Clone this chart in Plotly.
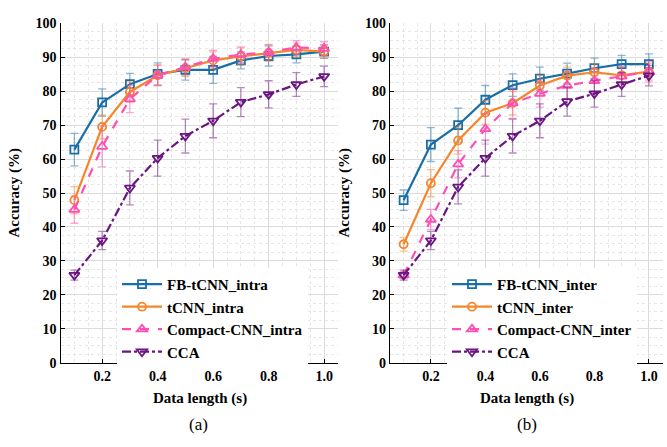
import plotly.graph_objects as go

# Data length (s)
data_length = [0.1, 0.2, 0.3, 0.4, 0.5, 0.6, 0.7, 0.8, 0.9, 1.0]

# (a) intra-subject accuracy (%) and standard errors
fb_intra = [62.8, 76.7, 82.1, 85.1, 86.3, 86.3, 89.1, 90.4, 90.9, 91.7]
fb_intra_err = [4.8, 4.0, 3.2, 3.3, 3.0, 4.0, 2.5, 3.0, 2.5, 2.0]
tcnn_intra = [47.9, 69.5, 79.8, 84.7, 86.8, 89.1, 90.3, 91.3, 92.2, 91.7]
tcnn_intra_err = [4.0, 3.5, 3.0, 3.0, 2.5, 2.5, 2.5, 2.5, 2.0, 2.0]
compact_intra = [45.1, 63.7, 77.7, 84.7, 87.1, 89.6, 90.8, 91.5, 92.9, 92.6]
compact_intra_err = [4.0, 6.0, 4.0, 3.0, 2.5, 2.5, 2.3, 2.2, 2.0, 2.0]
cca_intra = [25.8, 36.0, 51.5, 60.3, 66.8, 71.3, 76.8, 79.1, 82.0, 84.4]
cca_intra_err = [1.5, 2.7, 5.0, 5.3, 5.0, 5.0, 4.3, 4.0, 3.5, 3.0]

# (b) inter-subject accuracy (%) and standard errors
fb_inter = [47.9, 64.3, 70.0, 77.5, 81.8, 83.7, 85.2, 86.8, 88.0, 88.0]
fb_inter_err = [3.0, 5.0, 5.0, 4.2, 3.3, 3.4, 3.1, 3.0, 2.6, 3.0]
tcnn_inter = [34.9, 52.9, 65.5, 73.7, 76.5, 81.7, 84.6, 85.6, 84.7, 85.8]
tcnn_inter_err = [2.0, 4.0, 4.0, 3.5, 3.5, 3.0, 2.5, 2.5, 2.5, 2.5]
compact_inter = [25.8, 42.2, 58.5, 68.9, 76.5, 79.3, 81.7, 83.1, 84.4, 85.8]
compact_inter_err = [1.0, 3.0, 4.0, 4.5, 4.5, 4.0, 4.0, 3.5, 3.0, 3.0]
cca_inter = [25.8, 36.0, 51.8, 60.3, 66.8, 71.3, 77.0, 79.3, 82.0, 84.6]
cca_inter_err = [1.5, 2.7, 5.0, 5.3, 5.0, 5.0, 4.3, 4.0, 3.5, 3.0]

x_ticks = [0.2, 0.4, 0.6, 0.8, 1.0]
x_tick_labels = ["0.2", "0.4", "0.6", "0.8", "1.0"]
y_ticks = [0, 10, 20, 30, 40, 50, 60, 70, 80, 90, 100]

BLUE = "#1a6ea6"
ORANGE = "#f5862a"
PINK = "#ff4fb3"
PURPLE = "#6b1580"
FONT = "Liberation Serif"


def rgba(hex_color, a):
    h = hex_color.lstrip("#")
    r, g, b = int(h[0:2], 16), int(h[2:4], 16), int(h[4:6], 16)
    return f"rgba({r},{g},{b},{a})"


fig = go.Figure()

panels = [
    ("x", "y", "legend", [
        ("FB-tCNN_intra", fb_intra, fb_intra_err, BLUE, "solid", "square-open"),
        ("tCNN_intra", tcnn_intra, tcnn_intra_err, ORANGE, "solid", "circle-open"),
        ("Compact-CNN_intra", compact_intra, compact_intra_err, PINK, "dash", "triangle-up-open"),
        ("CCA", cca_intra, cca_intra_err, PURPLE, "dashdot", "triangle-down-open"),
    ]),
    ("x2", "y2", "legend2", [
        ("FB-tCNN_inter", fb_inter, fb_inter_err, BLUE, "solid", "square-open"),
        ("tCNN_inter", tcnn_inter, tcnn_inter_err, ORANGE, "solid", "circle-open"),
        ("Compact-CNN_inter", compact_inter, compact_inter_err, PINK, "dash", "triangle-up-open"),
        ("CCA", cca_inter, cca_inter_err, PURPLE, "dashdot", "triangle-down-open"),
    ]),
]

for xa, ya, leg, series in panels:
    for name, vals, errs, color, dash, symbol in series:
        fig.add_trace(go.Scatter(
            x=data_length, y=vals, name=name, mode="lines+markers",
            xaxis=xa, yaxis=ya, legend=leg,
            line=dict(color=color, width=2.2, dash=dash),
            marker=dict(symbol=symbol, size=9 if "triangle" in symbol else 8,
                        color=color, line=dict(color=color, width=1.8)),
            error_y=dict(type="data", array=errs, visible=True,
                         color=rgba(color, 0.5), thickness=1.3, width=4),
        ))

y_bot = 1 - 368 / 447
y_top = 1 - 17 / 447

common_x = dict(
    range=[0.05, 1.05], tickvals=x_ticks, ticktext=x_tick_labels,
    showline=True, linecolor="black", linewidth=1.2,
    ticks="inside", ticklen=4, tickcolor="black",
    showgrid=True, gridcolor="#dcdcdc", gridwidth=1,
    minor=dict(dtick=0.05, tick0=0.05, showgrid=True, gridcolor="#e6e6e6",
               griddash="dot", gridwidth=1, ticks=""),
    zeroline=False,
    tickfont=dict(family=FONT, size=14, color="black", weight="bold"),
)
common_y = dict(
    range=[0, 100], tickvals=y_ticks,
    showline=True, linecolor="black", linewidth=1.2,
    ticks="inside", ticklen=4, tickcolor="black",
    showgrid=True, gridcolor="#dcdcdc", gridwidth=1,
    minor=dict(dtick=2.5, tick0=0, showgrid=True, gridcolor="#e6e6e6",
               griddash="dot", gridwidth=1, ticks=""),
    zeroline=False,
    tickfont=dict(family=FONT, size=14, color="black", weight="bold"),
)

legend_common = dict(
    bgcolor="white", borderwidth=0, yanchor="top", xanchor="left",
    font=dict(family=FONT, size=15, color="black", weight="bold"),
    tracegroupgap=0, itemwidth=40,
)

fig.update_layout(
    width=667, height=447,
    margin=dict(l=0, r=0, t=0, b=0),
    paper_bgcolor="white", plot_bgcolor="white",
    xaxis=dict(domain=[60.5 / 667, 338 / 667], anchor="y", **common_x),
    yaxis=dict(domain=[y_bot, y_top], anchor="x", **common_y),
    xaxis2=dict(domain=[390 / 667, 662.5 / 667], anchor="y2", **common_x),
    yaxis2=dict(domain=[y_bot, y_top], anchor="x2", **common_y),
    legend=dict(x=117 / 667, y=1 - 270 / 447, **legend_common),
    legend2=dict(x=447 / 667, y=1 - 270 / 447, **legend_common),
)

title_font = dict(family=FONT, size=15, color="black", weight="bold")
annotations = [
    dict(text="Accuracy (%)", x=15 / 667, y=1 - 192 / 447, textangle=-90),
    dict(text="Accuracy (%)", x=345 / 667, y=1 - 192 / 447, textangle=-90),
    dict(text="Data length (s)", x=200 / 667, y=1 - 405 / 447),
    dict(text="Data length (s)", x=527 / 667, y=1 - 405 / 447),
]
for a in annotations:
    fig.add_annotation(xref="paper", yref="paper", xanchor="center", yanchor="middle",
                       showarrow=False, font=title_font, **a)
for txt, xc in [("(a)", 199), ("(b)", 527)]:
    fig.add_annotation(text=txt, xref="paper", yref="paper", x=xc / 667, y=1 - 432 / 447,
                       xanchor="center", yanchor="middle", showarrow=False,
                       font=dict(family=FONT, size=17, color="black"))

fig.write_html("out.html")
